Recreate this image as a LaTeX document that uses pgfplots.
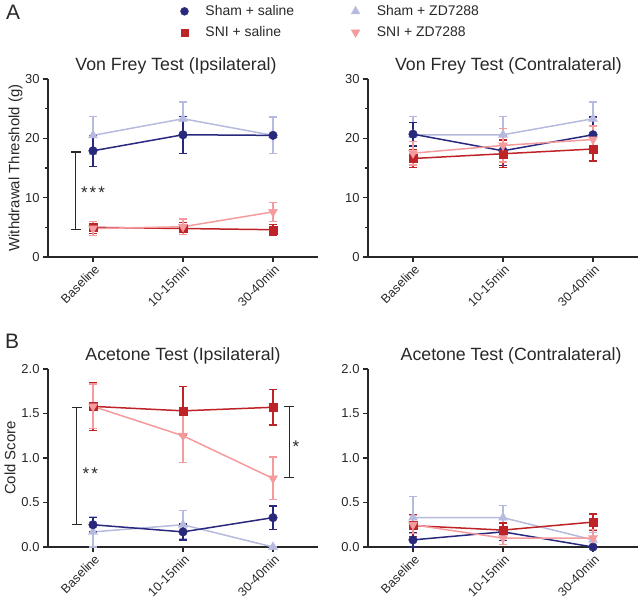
\documentclass[border=0pt]{standalone}
\usepackage{fontspec}
\setmainfont{Liberation Sans}
\usepackage{pgfplots}
\pgfplotsset{compat=1.18}
\definecolor{cnavy}{RGB}{40,40,125}
\definecolor{cred}{RGB}{190,35,40}
\definecolor{clav}{RGB}{182,186,222}
\definecolor{cpink}{RGB}{245,155,158}
\definecolor{ink}{RGB}{40,40,40}

\pgfplotsset{
  panel/.style={
    scale only axis, width=270bp, height=178bp,
    xmin=-0.5, xmax=2.5, xtick={0,1,2},
    xticklabels={Baseline,10-15min,30-40min},
    axis x line*=bottom, axis y line*=left,
    axis line style={line width=1.1bp, ink},
    tick style={line width=1.1bp, ink},
    tick align=outside, major tick length=5bp, minor tick length=3bp,
    x tick label style={rotate=45, anchor=north east, font=\fontsize{12.6}{12.6}\selectfont, text=ink, inner sep=0.5bp, yshift=-1bp},
    y tick label style={font=\fontsize{13}{13}\selectfont, text=ink},
    /pgf/number format/assume math mode=true,
    title style={font=\fontsize{17.8}{17.8}\selectfont, anchor=base, yshift=3bp, text=ink},
    ylabel style={font=\fontsize{15}{15}\selectfont, anchor=center, text=ink},
    clip=false,
  },
  ebar/.style={error bars/y dir=both, error bars/y explicit,
    error bars/error bar style={line width=1.3bp, #1},
    error bars/error mark options={rotate=90, mark size=4bp, line width=1.3bp, #1}},
  snavy/.style={cnavy, line width=1.5bp, mark=*, mark size=4.3bp, mark options={fill=cnavy, draw=cnavy, line width=0.4bp}, ebar=cnavy, forget plot},
  sred/.style={cred, line width=1.5bp, mark=square*, mark size=4bp, mark options={fill=cred, draw=cred, line width=0.4bp}, ebar=cred, forget plot},
  slav/.style={clav, line width=1.5bp, mark=triangle*, mark size=5.2bp, mark options={fill=clav, draw=clav, line width=0.4bp}, ebar=clav, forget plot},
  spink/.style={cpink, line width=1.5bp, mark=triangle*, mark size=5.2bp, mark options={fill=cpink, draw=cpink, rotate=180, line width=0.4bp}, ebar=cpink, forget plot},
}

\begin{document}
\begin{tikzpicture}
\useasboundingbox (0,0) rectangle (640bp,600bp);

\node[font=\fontsize{21}{21}\selectfont, text=ink] at (13bp,587.5bp) {A};
\node[font=\fontsize{21}{21}\selectfont, text=ink] at (12bp,259bp) {B};

% ---------- Von Frey ipsilateral ----------
\begin{axis}[panel, at={(48bp,343bp)}, anchor=south west,
  ymin=0, ymax=30, ytick={0,10,20,30}, minor ytick={5,15,25},
  title={Von Frey Test (Ipsilateral)},
  title style={at={(axis description cs:0.474,1)}},
  ylabel={Withdrawal Threshold (g)},
  ylabel style={at={(axis description cs:-0.12,0.5)}},
  legend columns=2,
  legend cell align=left,
  legend style={draw=none, fill=none, inner sep=0pt, font=\fontsize{14}{14}\selectfont, text=ink,
    at={(axis description cs:0.49,1.425)}, anchor=north west, row sep=5.5bp,
    /tikz/every odd column/.append style={column sep=15bp},
    /tikz/every even column/.append style={column sep=55bp}},
]
\addlegendimage{only marks, mark=*, cnavy, mark size=4bp}
\addlegendentry{Sham + saline}
\addlegendimage{only marks, mark=triangle*, clav, mark size=5bp}
\addlegendentry{Sham + ZD7288}
\addlegendimage{only marks, mark=square*, cred, mark size=3.7bp}
\addlegendentry{SNI + saline}
\addlegendimage{only marks, mark=triangle*, mark options={rotate=180}, cpink, mark size=5bp}
\addlegendentry{SNI + ZD7288}

\addplot[slav] coordinates {(0,20.5) +- (0,3.2) (1,23.3) +- (0,2.8) (2,20.5) +- (0,3.1)};
\addplot[snavy] coordinates {(0,17.9) +- (0,2.6) (1,20.6) +- (0,3.1) (2,20.5) +- (0,0)};
\addplot[sred] coordinates {(0,5.0) +- (0,1.0) (1,4.8) +- (0,1.0) (2,4.6) +- (0,0.9)};
\addplot[spink] coordinates {(0,4.8) +- (0,1.2) (1,5.1) +- (0,1.3) (2,7.6) +- (0,1.6)};

\draw[line width=1.1bp, ink] (axis cs:-0.19,4.7) -- (axis cs:-0.19,17.7)
  (axis cs:-0.245,4.7) -- (axis cs:-0.135,4.7)
  (axis cs:-0.245,17.7) -- (axis cs:-0.135,17.7);
\node[anchor=base, font=\fontsize{17}{17}\selectfont, text=ink, inner sep=0pt] at (axis cs:0.0,9.9) {*\kern2bp*\kern2bp*};
\end{axis}

% ---------- Von Frey contralateral ----------
\begin{axis}[panel, at={(368bp,343bp)}, anchor=south west,
  ymin=0, ymax=30, ytick={0,10,20,30}, minor ytick={5,15,25},
  title={Von Frey Test (Contralateral)},
  title style={at={(axis description cs:0.52,1)}},
]
\addplot[slav] coordinates {(0,20.6) +- (0,3.1) (1,20.6) +- (0,3.1) (2,23.3) +- (0,2.8)};
\addplot[snavy] coordinates {(0,20.7) +- (0,2.0) (1,17.9) +- (0,2.5) (2,20.6) +- (0,3.0)};
\addplot[sred] coordinates {(0,16.6) +- (0,1.5) (1,17.4) +- (0,2.3) (2,18.2) +- (0,2.0)};
\addplot[spink] coordinates {(0,17.5) +- (0,2.0) (1,18.8) +- (0,2.8) (2,19.8) +- (0,2.3)};
\end{axis}

% ---------- Acetone ipsilateral ----------
\begin{axis}[panel, at={(48bp,53bp)}, anchor=south west,
  ymin=0, ymax=2, ytick={0,0.5,1,1.5,2},
  yticklabel style={/pgf/number format/.cd, fixed, fixed zerofill, precision=1},
  title={Acetone Test (Ipsilateral)},
  title style={at={(axis description cs:0.5,1)}},
  ylabel={Cold Score},
  ylabel style={at={(axis description cs:-0.141,0.5)}},
]
\addplot[slav] coordinates {(0,0.17) +- (0,0.17) (1,0.25) +- (0,0.16) (2,0.0) +- (0,0)};
\addplot[snavy] coordinates {(0,0.25) +- (0,0.08) (1,0.17) +- (0,0.09) (2,0.33) +- (0,0.13)};
\addplot[sred] coordinates {(0,1.58) +- (0,0.27) (1,1.53) +- (0,0.27) (2,1.57) +- (0,0.2)};
\addplot[spink] coordinates {(0,1.58) +- (0,0.25) (1,1.25) +- (0,0.3) (2,0.77) +- (0,0.24)};

\draw[line width=1.1bp, ink] (axis cs:-0.18,0.25) -- (axis cs:-0.18,1.565)
  (axis cs:-0.235,0.25) -- (axis cs:-0.125,0.25)
  (axis cs:-0.235,1.565) -- (axis cs:-0.125,1.565);
\node[anchor=base, font=\fontsize{17}{17}\selectfont, text=ink, inner sep=0pt] at (axis cs:-0.03,0.764) {*\kern2bp*};
\draw[line width=1.1bp, ink] (axis cs:2.18,0.777) -- (axis cs:2.18,1.576)
  (axis cs:2.125,0.777) -- (axis cs:2.235,0.777)
  (axis cs:2.125,1.576) -- (axis cs:2.235,1.576);
\node[anchor=base, font=\fontsize{17}{17}\selectfont, text=ink, inner sep=0pt] at (axis cs:2.255,1.06) {*};
\end{axis}

% ---------- Acetone contralateral ----------
\begin{axis}[panel, at={(368bp,53bp)}, anchor=south west,
  ymin=0, ymax=2, ytick={0,0.5,1,1.5,2},
  yticklabel style={/pgf/number format/.cd, fixed, fixed zerofill, precision=1},
  title={Acetone Test (Contralateral)},
  title style={at={(axis description cs:0.53,1)}},
]
\addplot[slav] coordinates {(0,0.33) +- (0,0.24) (1,0.33) +- (0,0.14) (2,0.08) +- (0,0.08)};
\addplot[snavy] coordinates {(0,0.08) +- (0,0.08) (1,0.17) +- (0,0.1) (2,0.0) +- (0,0)};
\addplot[sred] coordinates {(0,0.24) +- (0,0.12) (1,0.19) +- (0,0.08) (2,0.28) +- (0,0.09)};
\addplot[spink] coordinates {(0,0.25) +- (0,0.1) (1,0.1) +- (0,0.07) (2,0.1) +- (0,0.1)};
\end{axis}
\end{tikzpicture}
\end{document}
